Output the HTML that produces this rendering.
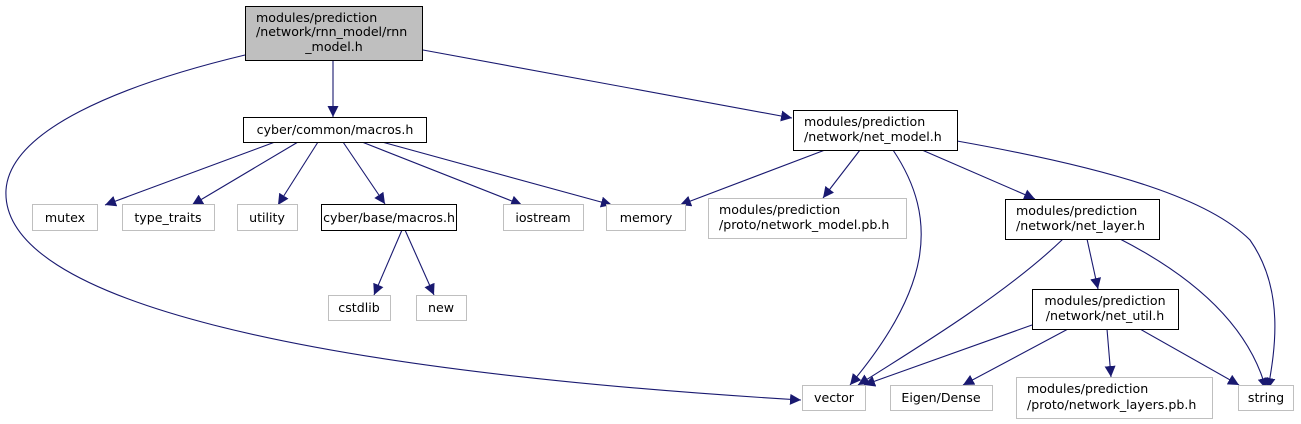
<!DOCTYPE html>
<html><head><meta charset="utf-8"><style>
html,body{margin:0;padding:0;background:#fff;}
svg{display:block;}
text{font-family:"DejaVu Sans","Liberation Sans",sans-serif;font-size:12.6px;fill:#000;}
</style></head><body>
<svg width="1301" height="424" viewBox="0 0 1301 424" xmlns="http://www.w3.org/2000/svg">
<defs><marker id="a" viewBox="0 0 10 10" refX="10" refY="5" markerWidth="11" markerHeight="11" markerUnits="userSpaceOnUse" orient="auto"><path d="M0,0L10,5L0,10z" fill="#191970"/></marker></defs>
<g fill="none" stroke="#191970" stroke-width="1.1" marker-end="url(#a)">
<path d="M333,61L333,117"/>
<path d="M423,50L792,118"/>
<path d="M245,55C120,85 10,130 6,190C0,300 300,370 801,400"/>
<path d="M275,142L105,205"/>
<path d="M298,142L192,205"/>
<path d="M318,142L278,205"/>
<path d="M343,142L385,204"/>
<path d="M362,142L522,205"/>
<path d="M382,142L612,205"/>
<path d="M825,150L680,205"/>
<path d="M860,150L823,198"/>
<path d="M893,150C940,220 930,290 850,385"/>
<path d="M922,150L1035,199"/>
<path d="M957,141C1120,170 1210,200 1250,240C1285,290 1275,350 1268,389"/>
<path d="M402,230L374,295"/>
<path d="M405,230L434,295"/>
<path d="M1087,239L1098,289"/>
<path d="M1063,239C1010,290 930,340 858,385"/>
<path d="M1120,239C1200,280 1250,330 1266,389"/>
<path d="M1032,325L864,385"/>
<path d="M1068,329L963,385"/>
<path d="M1107,329L1111,377"/>
<path d="M1140,329L1239,385"/>
</g>
<g stroke-width="1">
<rect x="245.5" y="6.5" width="177" height="54" fill="#bfbfbf" stroke="#000"/>
<rect x="243.5" y="117.5" width="183" height="25" fill="#fff" stroke="#000"/>
<rect x="793.5" y="110.5" width="164" height="40" fill="#fff" stroke="#000"/>
<rect x="32.5" y="204.5" width="65" height="26" fill="#fff" stroke="#bfbfbf"/>
<rect x="122.5" y="204.5" width="92" height="26" fill="#fff" stroke="#bfbfbf"/>
<rect x="237.5" y="204.5" width="60" height="26" fill="#fff" stroke="#bfbfbf"/>
<rect x="321.5" y="204.5" width="135" height="26" fill="#fff" stroke="#000"/>
<rect x="503.5" y="204.5" width="80" height="26" fill="#fff" stroke="#bfbfbf"/>
<rect x="606.5" y="204.5" width="79" height="26" fill="#fff" stroke="#bfbfbf"/>
<rect x="708.5" y="198.5" width="198" height="40" fill="#fff" stroke="#bfbfbf"/>
<rect x="1005.5" y="199.5" width="154" height="40" fill="#fff" stroke="#000"/>
<rect x="328.5" y="295.5" width="62" height="25" fill="#fff" stroke="#bfbfbf"/>
<rect x="416.5" y="295.5" width="50" height="25" fill="#fff" stroke="#bfbfbf"/>
<rect x="1032.5" y="289.5" width="146" height="40" fill="#fff" stroke="#000"/>
<rect x="802.5" y="385.5" width="63" height="25" fill="#fff" stroke="#bfbfbf"/>
<rect x="890.5" y="385.5" width="102" height="25" fill="#fff" stroke="#bfbfbf"/>
<rect x="1016.5" y="377.5" width="196" height="41" fill="#fff" stroke="#bfbfbf"/>
<rect x="1238.5" y="385.5" width="55" height="25" fill="#fff" stroke="#bfbfbf"/>
</g>
<text x="256" y="22">modules/prediction</text>
<text x="256" y="36">/network/rnn_model/rnn</text>
<text x="334" y="51" text-anchor="middle">_model.h</text>
<text x="335" y="134" text-anchor="middle">cyber/common/macros.h</text>
<text x="804" y="126">modules/prediction</text>
<text x="804" y="141">/network/net_model.h</text>
<text x="65" y="222" text-anchor="middle">mutex</text>
<text x="168" y="222" text-anchor="middle">type_traits</text>
<text x="267" y="222" text-anchor="middle">utility</text>
<text x="389" y="222" text-anchor="middle">cyber/base/macros.h</text>
<text x="543" y="222" text-anchor="middle">iostream</text>
<text x="646" y="222" text-anchor="middle">memory</text>
<text x="719" y="214">modules/prediction</text>
<text x="719" y="229">/proto/network_model.pb.h</text>
<text x="1016" y="215">modules/prediction</text>
<text x="1016" y="230">/network/net_layer.h</text>
<text x="359" y="312" text-anchor="middle">cstdlib</text>
<text x="441" y="312" text-anchor="middle">new</text>
<text x="1105" y="305" text-anchor="middle">modules/prediction</text>
<text x="1105" y="320" text-anchor="middle">/network/net_util.h</text>
<text x="834" y="402" text-anchor="middle">vector</text>
<text x="941" y="402" text-anchor="middle">Eigen/Dense</text>
<text x="1027" y="393">modules/prediction</text>
<text x="1027" y="409">/proto/network_layers.pb.h</text>
<text x="1266" y="402" text-anchor="middle">string</text>
</svg>
</body></html>
